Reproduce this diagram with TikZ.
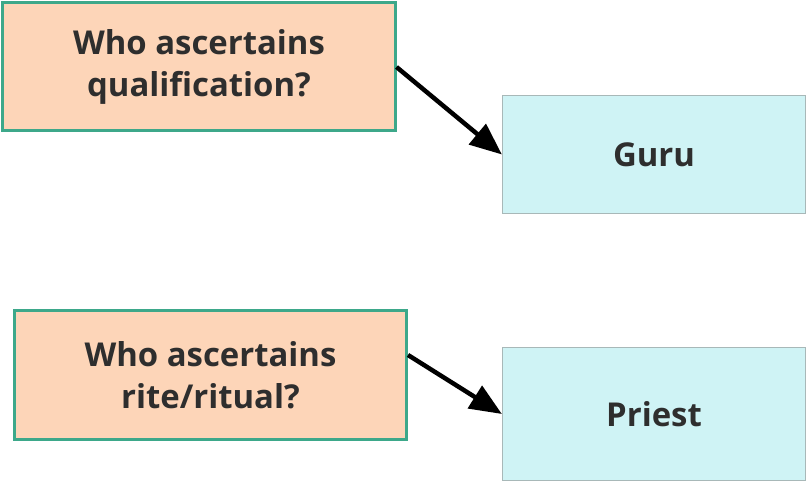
\documentclass[tikz,border=0pt]{standalone}
\usepackage{fontspec}
\setmainfont{Open Sans}
\usetikzlibrary{arrows.meta}
\definecolor{qfill}{HTML}{FDD5B8}
\definecolor{qline}{HTML}{3DA88A}
\definecolor{afill}{HTML}{CFF3F5}
\definecolor{aline}{HTML}{A8B8B8}
\definecolor{txt}{HTML}{2E2E2E}
\begin{document}
\begin{tikzpicture}[x=1bp,y=-1bp,
    question/.style={draw=qline, fill=qfill, line width=3bp, minimum width=392bp,
      minimum height=128bp, align=center, text=txt,
      font=\bfseries\fontsize{33}{42}\selectfont},
    answer/.style={draw=aline, fill=afill, line width=1.2bp, minimum width=303bp,
      text=txt, font=\bfseries\fontsize{33}{38}\selectfont},
    conn/.style={line width=4.5bp, -{Triangle[length=32bp,width=26bp]}}]
  \useasboundingbox (0,0) rectangle (807,483);
  % top pair
  \node[question] (qual) at (199,67) {Who ascertains\\qualification?};
  \node[answer, minimum height=118bp] (guru) at (654,154.5) {Guru};
  % bottom pair
  \node[question] (rite) at (210.5,375) {Who ascertains\\rite/ritual?};
  \node[answer, minimum height=133bp] (priest) at (654,414) {Priest};
  \draw[conn] (qual.east) -- (guru.west);
  \draw[conn] ([yshift=20bp]rite.east) -- (priest.west);
\end{tikzpicture}
\end{document}
